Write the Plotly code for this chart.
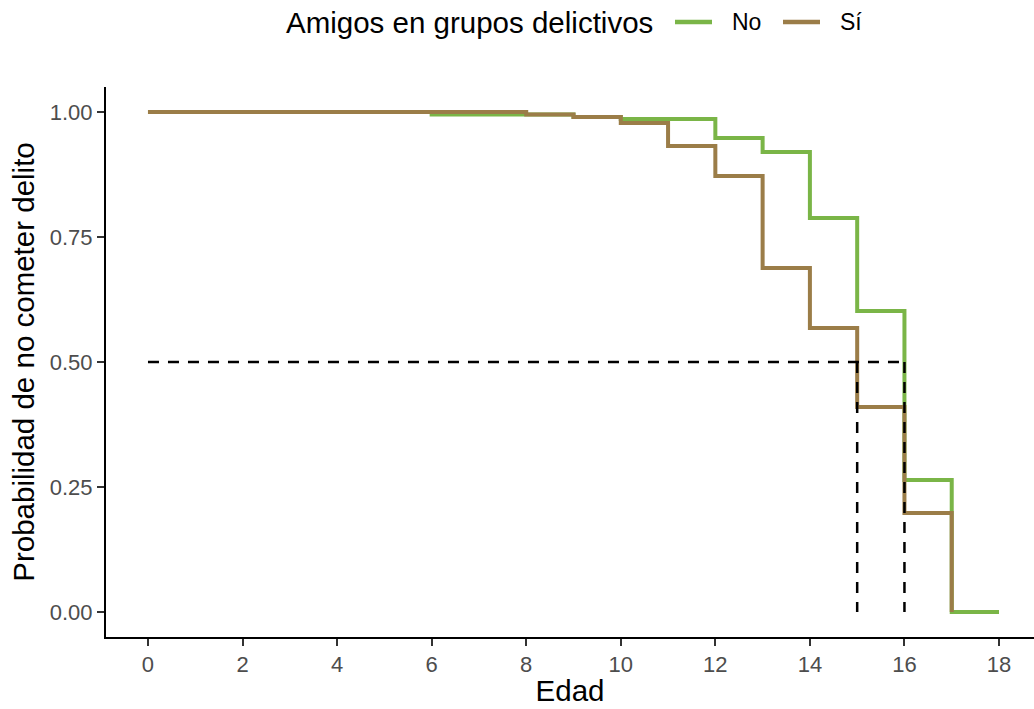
import plotly.graph_objects as go

# Data
edad_no = [0, 6, 9, 10, 12, 13, 14, 15, 16, 17, 18]
surv_no = [1.0, 0.995, 0.99, 0.986, 0.948, 0.92, 0.788, 0.602, 0.264, 0.0, 0.0]
edad_si = [0, 8, 9, 10, 11, 12, 13, 14, 15, 16, 17]
surv_si = [1.0, 0.995, 0.99, 0.978, 0.932, 0.872, 0.688, 0.568, 0.41, 0.198, 0.0]
medianas = [15, 16]
x_ticks = [0, 2, 4, 6, 8, 10, 12, 14, 16, 18]
y_ticks = [0.0, 0.25, 0.5, 0.75, 1.0]
y_labels = ["0.00", "0.25", "0.50", "0.75", "1.00"]
grupos = ["No", "Sí"]

green = "#7AB547"
brown = "#9B7D48"
colores = [green, brown]
font = "Liberation Sans, Arial, sans-serif"

fig = go.Figure()
fig.add_trace(go.Scatter(x=edad_no, y=surv_no, mode="lines", line_shape="hv",
                         line=dict(color=green, width=4), name=grupos[0], showlegend=False))
fig.add_trace(go.Scatter(x=edad_si, y=surv_si, mode="lines", line_shape="hv",
                         line=dict(color=brown, width=4), name=grupos[1], showlegend=False))

# median reference lines
dash = dict(color="black", width=2.5, dash="11px,9px")
fig.add_trace(go.Scatter(x=[0, max(medianas)], y=[0.5, 0.5], mode="lines",
                         line=dash, showlegend=False, hoverinfo="skip"))
for m in medianas:
    fig.add_trace(go.Scatter(x=[m, m], y=[0.5, 0.0], mode="lines",
                             line=dash, showlegend=False, hoverinfo="skip"))

# legend (top, horizontal, ggplot style)
PLOT_L, PLOT_W = 106, 928
def px(v):
    return (v - PLOT_L) / PLOT_W
ly = (637 - 22) / 550
fig.add_annotation(text="Amigos en grupos delictivos", xref="paper", yref="paper",
                   x=px(655), y=ly, xanchor="right", yanchor="middle", showarrow=False,
                   font=dict(size=29.5, color="black"))
starts = [675, 783]
for name, col, s in zip(grupos, colores, starts):
    fig.add_shape(type="line", xref="paper", yref="paper", x0=px(s), x1=px(s + 37),
                  y0=ly, y1=ly, line=dict(color=col, width=4.5))
    fig.add_annotation(text=name, xref="paper", yref="paper", x=px(s + 55), y=ly,
                       xanchor="left", yanchor="middle", showarrow=False,
                       font=dict(size=23, color="black"))

fig.update_layout(
    width=1034, height=709,
    margin=dict(l=106, r=0, t=87, b=72),
    plot_bgcolor="white", paper_bgcolor="white",
    font=dict(family=font, color="black"),
    showlegend=False,
    xaxis=dict(range=[-0.888, 18.74], tickvals=x_ticks, showgrid=False, zeroline=False,
               showline=True, linecolor="black", linewidth=2,
               ticks="outside", ticklen=7, tickcolor="#333333", tickwidth=1.5,
               tickfont=dict(size=22, color="#4D4D4D"),
               title=dict(text="Edad", font=dict(size=29.5, color="black"), standoff=4)),
    yaxis=dict(range=[-0.05, 1.05], tickvals=y_ticks, ticktext=y_labels, showgrid=False,
               zeroline=False, showline=True, linecolor="black", linewidth=2,
               ticks="outside", ticklen=7, tickcolor="#333333", tickwidth=1.5,
               tickfont=dict(size=22, color="#4D4D4D"),
               title=dict(text="Probabilidad de no cometer delito", font=dict(size=29.5, color="black"), standoff=6)),
)

fig.write_html("out.html")
